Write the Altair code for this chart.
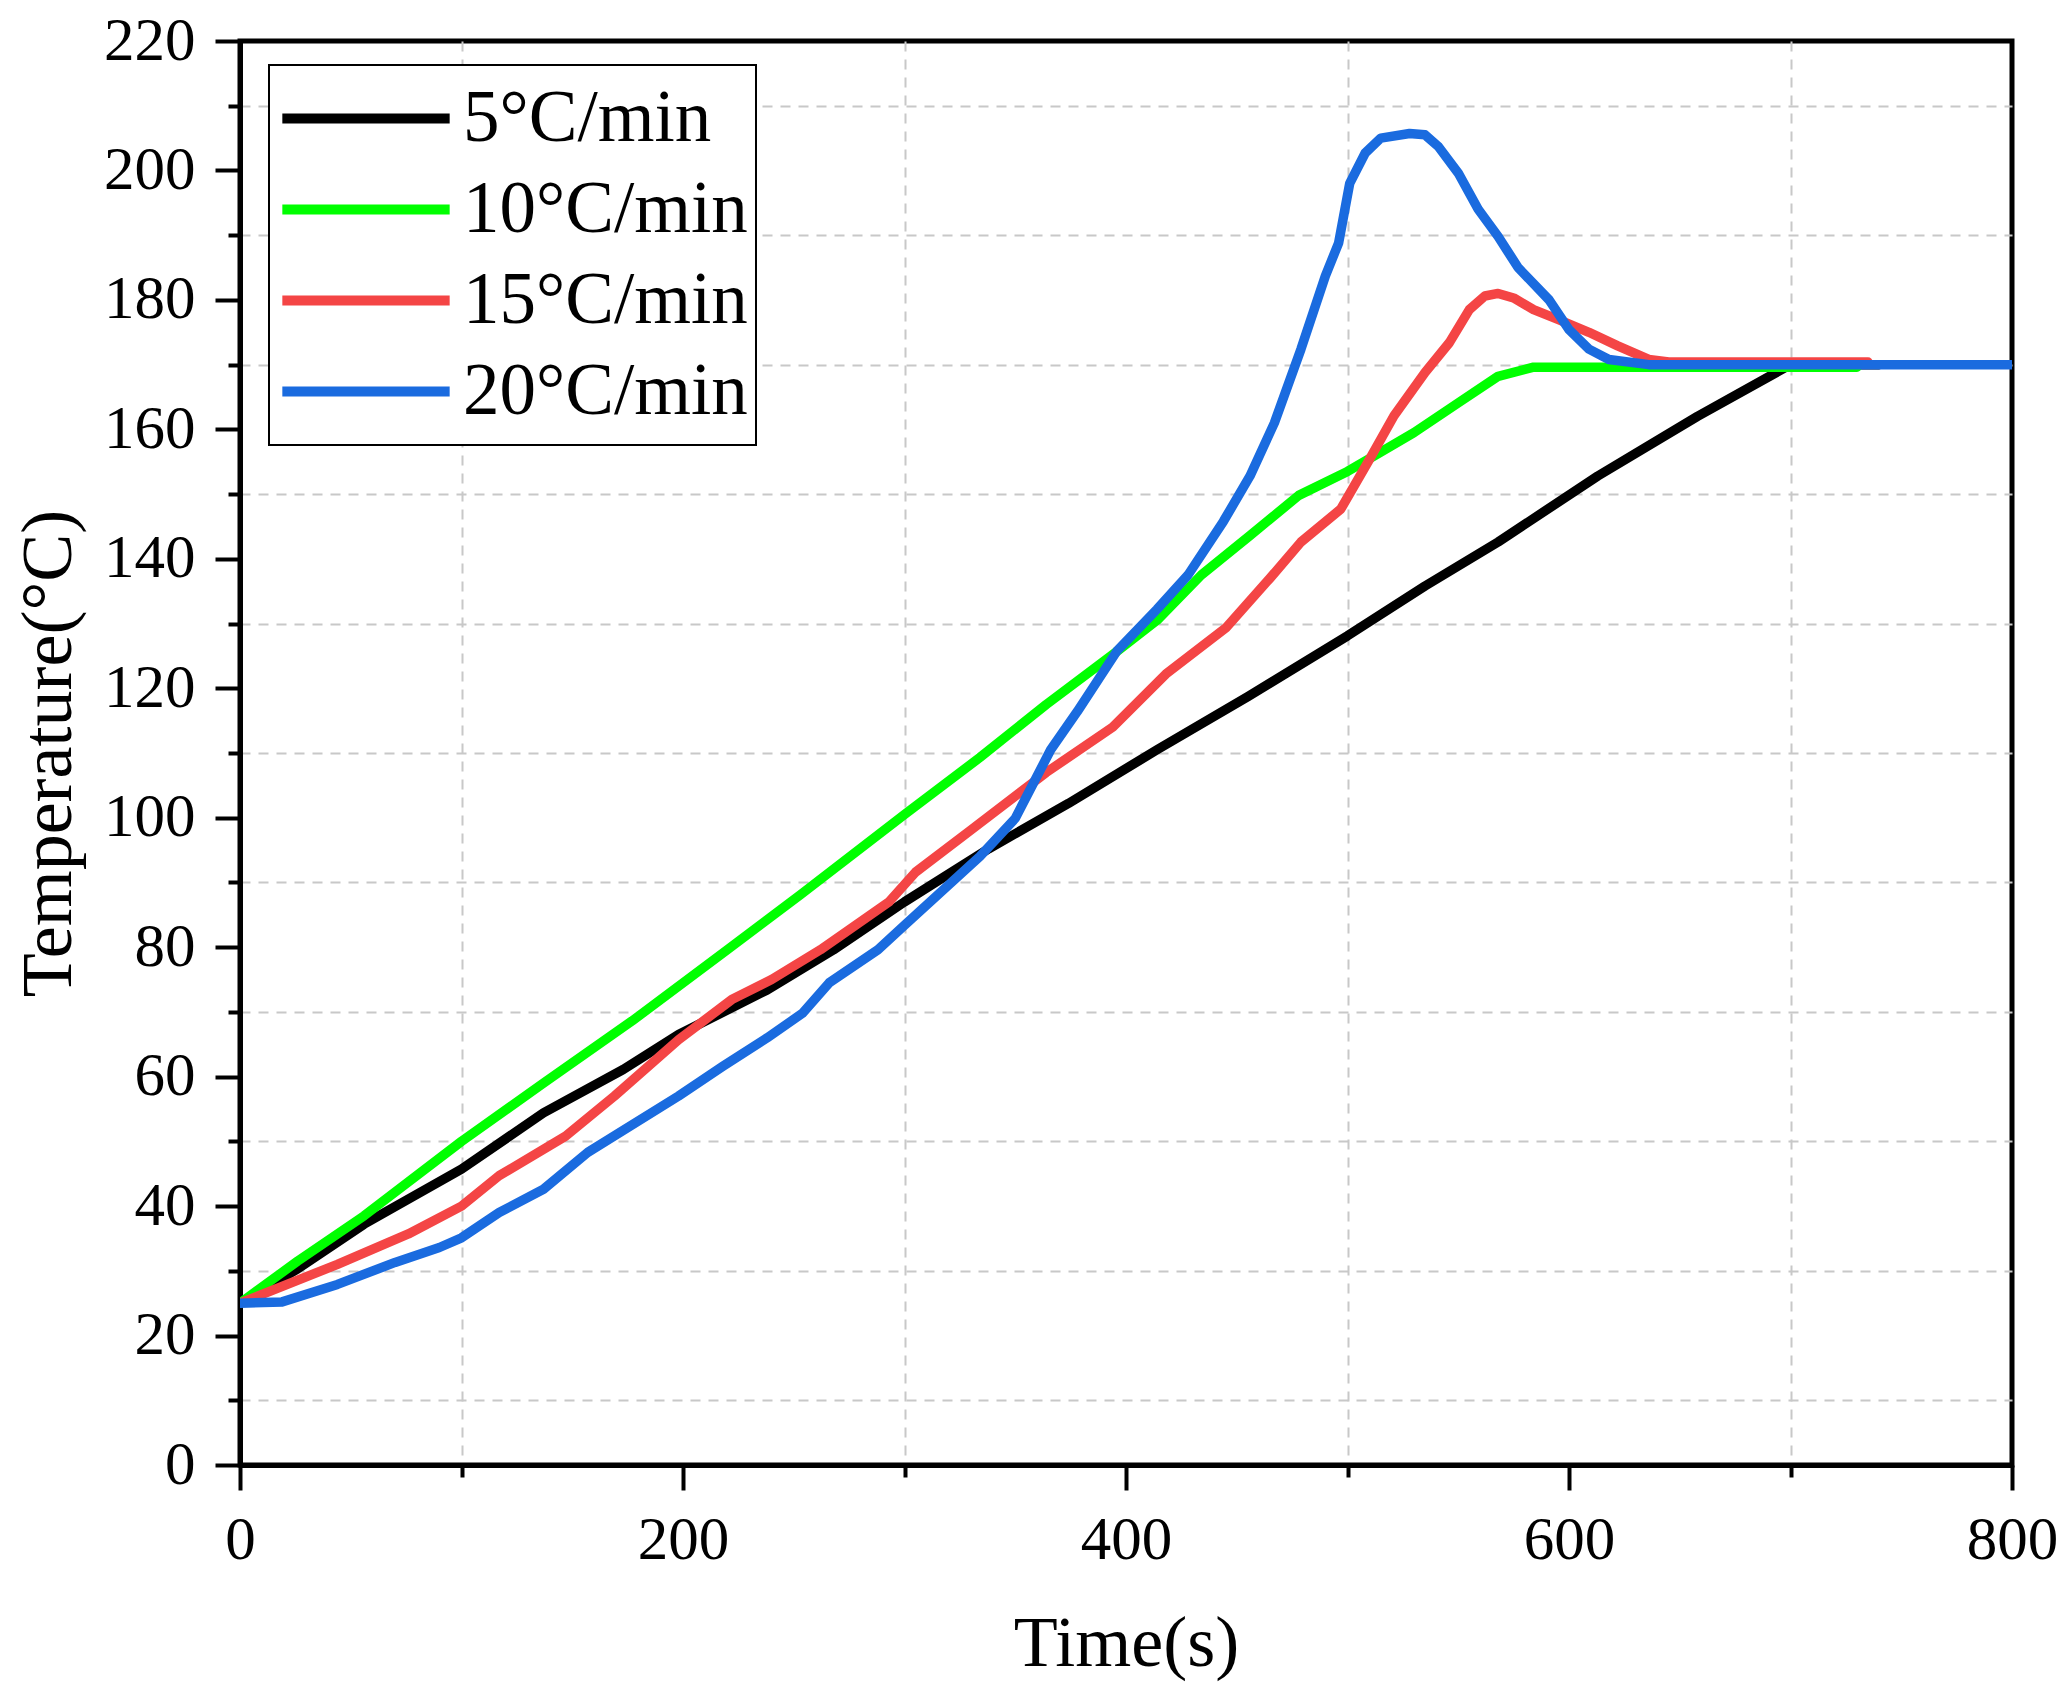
import altair as alt
import pandas as pd

SERIES = ["5°C/min", "10°C/min", "15°C/min", "20°C/min"]
COLORS = ["#000000", "#00FF00", "#F44545", "#1A6BDF"]

TIME_5 = [0, 26, 56, 100, 137, 173, 198, 238, 268, 300, 338, 374, 414, 455, 500, 535, 568, 613, 658, 700, 740]
TEMP_5 = [25, 30.3, 37.2, 45.7, 54.4, 61.1, 66.5, 73.4, 79.6, 87, 95.2, 102.2, 110.5, 118.7, 128.1, 135.8, 142.6,
          152.8, 162, 170, 170]

TIME_10 = [0, 26, 56, 100, 137, 177, 220, 253, 300, 334, 364, 394, 414, 434, 456, 478, 500, 514, 530, 550, 568,
           584, 600, 730]
TEMP_10 = [25, 31.5, 38.5, 50, 59, 68.6, 79.6, 88.1, 100.5, 109.3, 117.5, 125.2, 130.5, 137.5, 143.6, 149.8,
           153.5, 156.3, 159.5, 164.1, 168.2, 169.6, 169.6, 169.6]

TIME_15 = [0, 44, 76, 100, 117, 147, 169, 198, 222, 240, 262, 293, 305, 330, 364, 394, 418, 445, 465, 479, 497,
           510, 521, 535, 546, 555, 562, 568, 575, 584, 595, 609, 622, 636, 645, 735]
TEMP_15 = [25, 31, 35.7, 40, 44.7, 50.8, 57, 65.7, 71.9, 75, 79.6, 87, 91.6, 98.1, 107, 114, 122.2, 129.3, 137,
           142.6, 147.7, 155.4, 162.1, 168.8, 173.4, 178.5, 180.6, 181, 180.3, 178.5, 177, 175, 172.9, 170.8,
           170.4, 170.4]

TIME_20 = [0, 19, 44, 70, 90, 100, 117, 137, 157, 198, 218, 238, 254, 266, 288, 300, 334, 350, 366, 378, 396,
           414, 428, 444, 456, 467, 479, 490, 496, 501, 508, 515, 528, 535, 541, 550, 559, 568, 577, 591, 600,
           609, 618, 636, 800]
TEMP_20 = [25, 25.2, 27.9, 31.3, 33.6, 35.1, 39, 42.6, 48.3, 57, 61.6, 66, 69.8, 74.5, 79.6, 83.4, 94, 99.9,
           110.5, 116.4, 125.8, 132.2, 137.5, 145.8, 152.8, 161, 172.4, 183.7, 188.8, 198, 202.7, 205, 205.7,
           205.5, 203.7, 199.6, 194, 189.8, 185, 180, 175.4, 172.4, 170.8, 170, 170]

X_TICKS = [0, 100, 200, 300, 400, 500, 600, 700, 800]
Y_TICKS = [0, 10, 20, 30, 40, 50, 60, 70, 80, 90, 100, 110, 120, 130, 140, 150, 160, 170, 180, 190, 200, 210, 220]

FONT = "Liberation Serif"

frames = []
for name, t, v in zip(SERIES, [TIME_5, TIME_10, TIME_15, TIME_20], [TEMP_5, TEMP_10, TEMP_15, TEMP_20]):
    frames.append(pd.DataFrame({"time": t, "temp": v, "rate": name}))
df = pd.concat(frames, ignore_index=True)


def _axis(title: str, step: int, title_pad: int, values: list[int]) -> alt.Axis:
    # labelled major ticks every `step`, short minor ticks in between; grid only on the minor ones
    major = f"datum.value % {step} === 0"
    return alt.Axis(
        title=title,
        values=values,
        labelExpr=f"{major} ? datum.label : ''",
        tickSize={"condition": {"test": major, "value": 25}, "value": 12},
        gridOpacity={"condition": {"test": major, "value": 0}, "value": 1},
        grid=True,
        gridDash=[10, 8],
        gridColor="#C8C8C8",
        gridWidth=2,
        tickWidth=4,
        tickColor="black",
        domainColor="black",
        domainWidth=5,
        labelFont=FONT,
        labelFontSize=61,
        labelColor="black",
        labelPadding=20,
        labelFlush=False,
        titleFont=FONT,
        titleFontSize=72,
        titleFontWeight="normal",
        titleColor="black",
        titlePadding=title_pad,
    )


chart = (
    alt.Chart(df)
    .mark_line(strokeWidth=9.5, strokeCap="round", strokeJoin="round", clip=True)
    .encode(
        x=alt.X("time:Q", scale=alt.Scale(domain=[0, 800], nice=False, zero=False),
                axis=_axis("Time(s)", 200, 38, X_TICKS)),
        y=alt.Y("temp:Q", scale=alt.Scale(domain=[0, 220], nice=False),
                axis=_axis("Temperature(°C)", 20, 18, Y_TICKS)),
        color=alt.Color(
            "rate:N",
            sort=SERIES,
            scale=alt.Scale(domain=SERIES, range=COLORS),
            legend=alt.Legend(
                title=None,
                orient="none",
                legendX=29,
                legendY=24,
                symbolType="stroke",
                symbolSize=28000,
                symbolStrokeWidth=10,
                clipHeight=91,
                rowPadding=0,
                labelFont=FONT,
                labelFontSize=73,
                labelColor="black",
                labelLimit=400,
                labelOffset=8,
                padding=8,
                strokeColor="black",
                fillColor="white",
            ),
        ),
    )
    .properties(
        width=1772,
        height=1424,
        autosize=alt.AutoSizeParams(type="none"),
        padding={"left": 232, "top": 33, "right": 45, "bottom": 228},
    )
    .configure_view(stroke="black", strokeWidth=5)
    .configure_legend(strokeWidth=2)
)

chart.save("out.html", embed_options={"renderer": "svg", "actions": False})
